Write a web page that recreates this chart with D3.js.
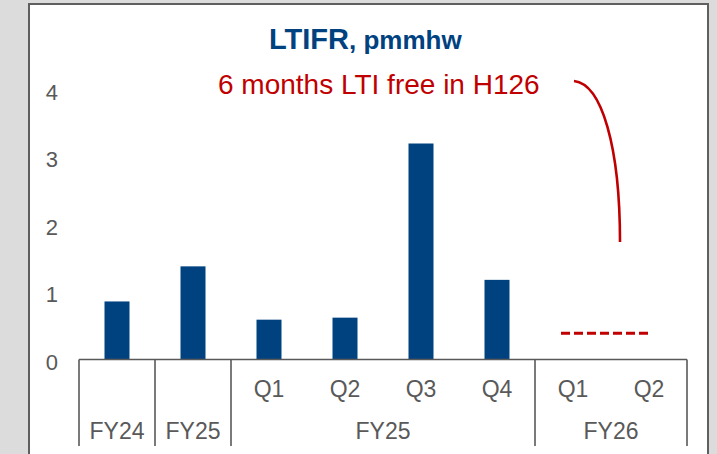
<!DOCTYPE html>
<html>
<head>
<meta charset="utf-8">
<script src="https://cdn.jsdelivr.net/npm/d3@7"></script>
<style>
  html, body { margin: 0; padding: 0; background: #dcdcdc; }
  svg { display: block; font-family: "Liberation Sans", Arial, sans-serif; }
</style>
</head>
<body>
<svg width="717" height="454"></svg>
<script>
// Chart data
var periods = ["FY24", "FY25", "FY25 Q1", "FY25 Q2", "FY25 Q3", "FY25 Q4", "FY26 Q1", "FY26 Q2"];
var quarterLabels = ["", "", "Q1", "Q2", "Q3", "Q4", "Q1", "Q2"];
var values = [0.86, 1.38, 0.59, 0.62, 3.2, 1.18, null, null];
var groupLabels = ["FY24", "FY25", "FY25", "FY26"];
var groupSizes = [1, 1, 4, 2];
var yTicks = [0, 1, 2, 3, 4];
var targetValue = 0.39;   // dashed line over FY26
var noteValue = 1.74;     // where the red bracket ends

var svg = d3.select("svg"),
    width = +svg.attr("width"),
    height = +svg.attr("height");

var blue = "#00427f",
    red = "#c00000",
    grey = "#595959";

// White panel with dark frame
svg.append("rect")
    .attr("x", 29).attr("y", 4)
    .attr("width", 679).attr("height", 470)
    .attr("fill", "white")
    .attr("stroke", "#5f5f5f")
    .attr("stroke-width", 2);

var x = d3.scaleBand()
    .domain(periods)
    .range([79, 687])
    .padding(0);

var y = d3.scaleLinear()
    .domain([0, 4])
    .range([359.5, 89.5]);

var step = x.step(),
    barW = 25;

// y tick labels (no axis line)
svg.append("g")
  .selectAll("text")
  .data(yTicks)
  .enter().append("text")
    .attr("x", 58)
    .attr("y", function(d) { return y(d) + 10; })
    .attr("text-anchor", "end")
    .attr("font-size", 22)
    .attr("fill", grey)
    .text(function(d) { return d; });

// Bars
svg.append("g")
  .selectAll("rect")
  .data(periods.map(function(p, i) { return {p: p, v: values[i]}; })
               .filter(function(d) { return d.v != null; }))
  .enter().append("rect")
    .attr("x", function(d) { return x(d.p) + (step - barW) / 2; })
    .attr("y", function(d) { return y(d.v); })
    .attr("width", barW)
    .attr("height", function(d) { return y(0) - y(d.v); })
    .attr("fill", blue);

// Category axis: baseline + group separators
var axis = svg.append("g")
    .attr("stroke", grey)
    .attr("stroke-width", 1.6);

axis.append("line")
    .attr("x1", x.range()[0]).attr("x2", x.range()[1])
    .attr("y1", y(0)).attr("y2", y(0));

var bounds = [0];
groupSizes.forEach(function(s, i) { bounds.push(bounds[i] + s); });

axis.selectAll(".sep")
  .data(bounds)
  .enter().append("line")
    .attr("class", "sep")
    .attr("x1", function(d) { return x.range()[0] + d * step; })
    .attr("x2", function(d) { return x.range()[0] + d * step; })
    .attr("y1", y(0))
    .attr("y2", 446);

// Quarter labels
svg.append("g")
  .selectAll("text")
  .data(periods)
  .enter().append("text")
    .attr("x", function(d) { return x(d) + step / 2; })
    .attr("y", 397)
    .attr("text-anchor", "middle")
    .attr("font-size", 23)
    .attr("fill", grey)
    .text(function(d, i) { return quarterLabels[i]; });

// Year group labels
svg.append("g")
  .selectAll("text")
  .data(groupLabels)
  .enter().append("text")
    .attr("x", function(d, i) { return x.range()[0] + (bounds[i] + bounds[i + 1]) / 2 * step; })
    .attr("y", 439)
    .attr("text-anchor", "middle")
    .attr("font-size", 23)
    .attr("fill", grey)
    .text(function(d) { return d; });

// Dashed line across FY26
svg.append("line")
    .attr("x1", x("FY26 Q1") + 26)
    .attr("x2", x("FY26 Q2") + 40)
    .attr("y1", y(targetValue))
    .attr("y2", y(targetValue))
    .attr("stroke", red)
    .attr("stroke-width", 3)
    .attr("stroke-dasharray", "9,4");

// Title
var title = svg.append("text")
    .attr("x", 269)
    .attr("y", 49)
    .attr("fill", blue)
    .attr("font-weight", "bold");
title.append("tspan").attr("font-size", 29).text("LTIFR");
title.append("tspan").attr("font-size", 26).text(", pmmhw");

// Annotation
svg.append("text")
    .attr("x", 218)
    .attr("y", 94)
    .attr("fill", red)
    .attr("font-size", 28)
    .text("6 months LTI free in H126");

var ex = x("FY26 Q2") + 9, ey = y(noteValue);
svg.append("path")
    .attr("d", "M574,81 C602,84 " + ex + "," + (ey - 95) + " " + ex + "," + ey)
    .attr("fill", "none")
    .attr("stroke", red)
    .attr("stroke-width", 2.6);
</script>
</body>
</html>
